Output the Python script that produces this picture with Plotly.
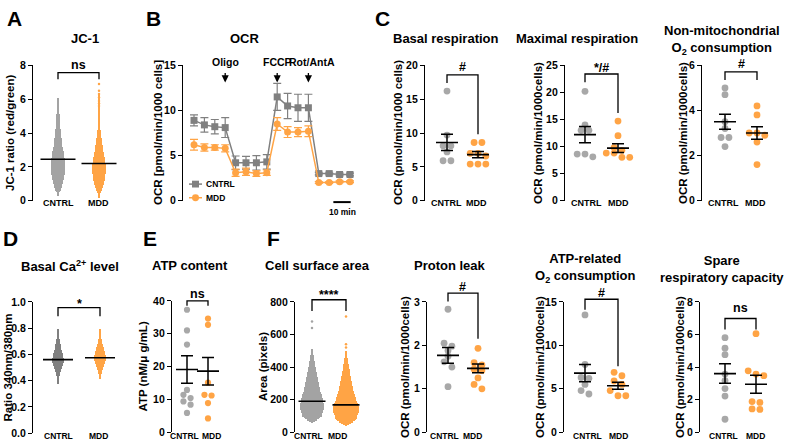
import numpy as np
import plotly.graph_objects as go

W, H = 788, 448
FONT = "Liberation Sans"
C_GRAY = "#A8A8A8"
C_DGRAY = "#808080"
C_ORANGE = "#FFA445"

groups = ["CNTRL", "MDD"]

# ---------------- A: JC-1 (violin outline: level -> relative density) ----------------
jc1_levels_cntrl = [0.3, 0.5, 0.67, 0.96, 1.45, 2.0, 2.6, 3.2, 3.8, 4.55, 5.5, 6.05]
jc1_dens_cntrl = [0.0, 0.17, 0.43, 0.6, 0.85, 1.0, 0.85, 0.6, 0.43, 0.26, 0.15, 0.03]
jc1_levels_mdd = [0.15, 0.5, 0.67, 0.96, 1.45, 2.0, 2.6, 3.2, 3.8, 4.55, 5.5, 6.2]
jc1_dens_mdd = [0.0, 0.23, 0.43, 0.63, 0.85, 0.94, 0.71, 0.49, 0.28, 0.14, 0.06, 0.02]
jc1_outliers_mdd = [6.9, 6.5, 6.3, 6.1, 5.9, 5.75, 5.6]
jc1_median = [2.45, 2.2]

# ---------------- B: OCR time course ----------------
ocr_time = [0, 6, 12, 18, 24, 30, 36, 42, 48, 54, 60, 66, 72, 78, 84, 90]
ocr_cntrl = [8.9, 8.4, 8.2, 8.1, 4.2, 4.2, 4.2, 4.3, 11.5, 10.5, 10.3, 10.3, 3.0, 3.0, 2.9, 2.9]
ocr_cntrl_err = [0.6, 0.8, 0.8, 1.1, 0.75, 0.7, 0.8, 0.8, 1.5, 1.4, 1.5, 1.5, 0.15, 0.15, 0.15, 0.15]
ocr_mdd = [6.2, 5.9, 5.9, 5.8, 3.1, 3.2, 3.0, 3.1, 8.5, 7.6, 7.6, 7.7, 2.0, 2.0, 2.1, 2.1]
ocr_mdd_err = [0.6, 0.4, 0.3, 0.4, 0.4, 0.4, 0.3, 0.3, 0.7, 0.6, 0.5, 0.6, 0.1, 0.1, 0.1, 0.1]
injections = [("Oligo", 18), ("FCCP", 48), ("Rot/AntA", 66)]

# ---------------- C: respiration parameters ----------------
basal_cntrl = [16.2, 9.7, 8.1, 8.1, 7.2, 5.9, 5.9]
basal_mdd = [8.6, 8.6, 7.0, 7.0, 6.6, 5.4, 5.4, 5.4]
basal_mean, basal_sem = [8.6, 6.8], [1.2, 0.45]

maximal_cntrl = [20.2, 14.0, 13.0, 13.0, 8.6, 8.6, 8.1]
maximal_mdd = [14.7, 12.0, 9.8, 9.3, 8.8, 8.8, 8.0, 8.0]
maximal_mean, maximal_sem = [12.2, 9.7], [1.5, 0.8]

nonmito_cntrl = [5.0, 4.7, 3.5, 3.2, 2.8, 2.8, 2.4]
nonmito_mdd = [4.2, 3.8, 3.0, 3.0, 2.9, 2.6, 1.6]
nonmito_mean, nonmito_sem = [3.5, 3.0], [0.33, 0.28]

# ---------------- D: basal Ca2+ ----------------
ca_levels_cntrl = [0.38, 0.42, 0.45, 0.50, 0.55, 0.60, 0.65, 0.70, 0.75, 0.79]
ca_dens_cntrl = [0.0, 0.1, 0.3, 0.6, 1.0, 0.8, 0.5, 0.3, 0.15, 0.03]
ca_levels_mdd = [0.42, 0.45, 0.50, 0.55, 0.57, 0.60, 0.65, 0.70, 0.75, 0.79]
ca_dens_mdd = [0.0, 0.2, 0.5, 0.9, 1.0, 0.9, 0.6, 0.3, 0.15, 0.03]
ca_median = [0.56, 0.575]

# ---------------- E: ATP content ----------------
atp_cntrl = [37.3, 31.0, 26.7, 12.9, 11.4, 10.4, 9.4, 8.4, 5.9]
atp_mdd = [34.6, 32.7, 15.1, 11.4, 11.2, 8.9, 4.2]
atp_mean, atp_sem = [19.1, 18.6], [4.2, 4.2]

# ---------------- F: cell surface area ----------------
area_levels_cntrl = [60, 80, 100, 150, 200, 250, 300, 350, 400, 450, 510]
area_dens_cntrl = [0.0, 0.43, 0.79, 1.0, 0.93, 0.71, 0.57, 0.43, 0.29, 0.18, 0.04]
area_outliers_cntrl = [640, 680]
area_levels_mdd = [40, 60, 80, 130, 160, 200, 250, 300, 350, 400, 450, 500]
area_dens_mdd = [0.0, 0.43, 0.86, 1.05, 1.05, 0.86, 0.64, 0.5, 0.36, 0.25, 0.14, 0.04]
area_outliers_mdd = [520, 540, 710]
area_median = [190, 168]

proton_cntrl = [2.83, 2.05, 1.98, 1.88, 1.75, 1.62, 1.5, 1.05]
proton_mdd = [1.93, 1.6, 1.55, 1.45, 1.42, 1.25, 1.1, 1.0]
proton_mean, proton_sem = [1.77, 1.47], [0.18, 0.1]

atprel_cntrl = [13.5, 7.8, 6.3, 6.2, 5.5, 4.8, 4.4]
atprel_mdd = [6.9, 6.5, 5.9, 5.5, 4.8, 4.2, 4.2]
atprel_mean, atprel_sem = [6.8, 5.35], [1.0, 0.4]

spare_cntrl = [5.8, 5.16, 4.76, 3.57, 3.17, 2.68, 2.22, 0.8]
spare_mdd = [6.05, 3.77, 3.57, 3.47, 1.88, 1.83, 1.43, 1.4]
spare_mean, spare_sem = [3.6, 2.95], [0.6, 0.55]

# ---------------- layout geometry (pixels) ----------------
GEOM = {
    "A": dict(L=33, R=128, T=61, B=200, c0=58, c1=99, yr=(0, 8), dtick=2, lab=(58, 99)),
    "B": dict(L=183, R=358, T=61, B=200, yr=(0, 15), dtick=5, t0px=194, pxmin=10.4 / 6),
    "C1": dict(L=425, R=505, T=61, B=200, c0=447, c1=478, yr=(0, 20), dtick=5, lab=(446, 477)),
    "C2": dict(L=565, R=645, T=61, B=200, c0=585, c1=618, yr=(0, 25), dtick=5, lab=(586, 618)),
    "C3": dict(L=702, R=785, T=61, B=200, c0=725, c1=757, yr=(0, 6), dtick=2, lab=(723, 755)),
    "D": dict(L=33, R=128, T=304, B=439, c0=58, c1=100, yr=(0, 1), dtick=0.2, fmt=".1f", lab=(58, 99)),
    "E": dict(L=172, R=228, T=303, B=438, c0=187, c1=208, yr=(0, 40), dtick=10, lab=(184, 211)),
    "F": dict(L=295, R=368, T=304, B=438, c0=312, c1=346, yr=(0, 800), dtick=200, lab=(308, 337)),
    "G": dict(L=427, R=505, T=304, B=438, c0=448, c1=478, yr=(0, 3), dtick=1, lab=(444, 472)),
    "H": dict(L=564, R=645, T=304, B=438, c0=585, c1=618, yr=(0, 15), dtick=5, lab=(587, 618)),
    "I": dict(L=700, R=785, T=304, B=438, c0=725, c1=756, yr=(0, 8), dtick=2, lab=(723, 755)),
}
ORDER = ["A", "B", "C1", "C2", "C3", "D", "E", "F", "G", "H", "I"]

for k, g in GEOM.items():
    if k == "B":
        g["xr"] = ((g["L"] - g["t0px"]) / g["pxmin"], (g["R"] - g["t0px"]) / g["pxmin"])
    else:
        sp = g["c1"] - g["c0"]
        g["s"] = sp
        g["xr"] = ((g["L"] - g["c0"]) / sp, (g["R"] - g["c0"]) / sp)


def to_paper(key, xv, yv):
    g = GEOM[key]
    x0, x1 = g["xr"]
    y0, y1 = g["yr"]
    xpx = g["L"] + (xv - x0) / (x1 - x0) * (g["R"] - g["L"])
    ypx = g["B"] - (yv - y0) / (y1 - y0) * (g["B"] - g["T"])
    return xpx / W, 1 - ypx / H


def P(xpx, ypx):
    return xpx / W, 1 - ypx / H


def f(size):
    return dict(family=FONT, size=size, color="black", weight="bold")


fig = go.Figure()
REF = {}
axes_layout = {}
for n, key in enumerate(ORDER, 1):
    g = GEOM[key]
    sx = "" if n == 1 else str(n)
    REF[key] = ("x" + sx, "y" + sx)
    axes_layout["xaxis" + sx] = dict(domain=[g["L"] / W, g["R"] / W], range=list(g["xr"]),
                                     autorange=False, anchor="y" + sx, showline=False,
                                     showticklabels=False, ticks="", showgrid=False,
                                     zeroline=False, fixedrange=True)
    ydict = dict(domain=[1 - g["B"] / H, 1 - g["T"] / H], range=list(g["yr"]), autorange=False,
                 anchor="x" + sx,
                 showline=True, linecolor="black", linewidth=1.3, ticks="outside", ticklen=4,
                 tickwidth=1.3, tickcolor="black", tickmode="linear", tick0=0, dtick=g["dtick"],
                 tickfont=f(10.5), showgrid=False, zeroline=False, fixedrange=True)
    if "fmt" in g:
        ydict["tickformat"] = g["fmt"]
    axes_layout["yaxis" + sx] = ydict


def add(trace, key):
    xr, yr = REF[key]
    trace.update(xaxis=xr, yaxis=yr, showlegend=False, hoverinfo="none")
    fig.add_trace(trace)


# ---------- violins: drawn as thin horizontal bar slices following the read outline ----------
def violin(key, ci, levels, dens, half_px, color, nslices=60):
    g = GEOM[key]
    hm = half_px / g["s"]
    edges = np.linspace(levels[0], levels[-1], nslices + 1)
    mids = (edges[:-1] + edges[1:]) / 2
    half = np.interp(mids, levels, dens) * hm
    thick = (edges[1] - edges[0]) * 1.05
    add(go.Bar(orientation="h", y=mids, x=2 * half, base=ci - half, width=thick,
               marker=dict(color=color, line=dict(width=0))), key)


def outliers(key, ci, vals, color):
    add(go.Scatter(x=[ci] * len(vals), y=vals, mode="markers", cliponaxis=False,
                   marker=dict(size=2.5, color=color)), key)


def median_lines(key, meds, half_px):
    g = GEOM[key]
    h = half_px / g["s"]
    for ci, m in enumerate(meds):
        add(go.Scatter(x=[ci - h, ci + h], y=[m, m], mode="lines",
                       line=dict(color="black", width=1.6)), key)


violin("A", 0, jc1_levels_cntrl, jc1_dens_cntrl, 7.5, "#A3A3A3")
violin("A", 1, jc1_levels_mdd, jc1_dens_mdd, 7.5, C_ORANGE)
outliers("A", 1, jc1_outliers_mdd, C_ORANGE)
median_lines("A", jc1_median, 17.5)

violin("D", 0, ca_levels_cntrl, ca_dens_cntrl, 6, C_DGRAY)
violin("D", 1, ca_levels_mdd, ca_dens_mdd, 6, C_ORANGE)
median_lines("D", ca_median, 15)

violin("F", 0, area_levels_cntrl, area_dens_cntrl, 12, "#A3A3A3")
violin("F", 1, area_levels_mdd, area_dens_mdd, 12, C_ORANGE)
outliers("F", 0, area_outliers_cntrl, "#A3A3A3")
outliers("F", 1, area_outliers_mdd, C_ORANGE)
median_lines("F", area_median, 13.5)


# ---------- scatter dot plots ----------
def swarm(values, ppu, d_px, s_px):
    order = sorted(range(len(values)), key=lambda i: -values[i])
    offs = [0.0] * len(values)
    rows = []
    for i in order:
        y = values[i] * ppu
        if rows and abs(rows[-1][0] - y) < 0.8 * d_px:
            rows[-1][1].append(i)
        else:
            rows.append((y, [i]))
    for _, idxs in rows:
        nn = len(idxs)
        for k, i in enumerate(idxs):
            offs[i] = (k - (nn - 1) / 2) * d_px * 1.15 / s_px
    return offs


def dotplot(key, cvals, mvals, means, sems, msize=6.8):
    g = GEOM[key]
    ppu = (g["B"] - g["T"]) / (g["yr"][1] - g["yr"][0])
    for ci, (vals, col) in enumerate([(cvals, C_GRAY), (mvals, C_ORANGE)]):
        offs = swarm(vals, ppu, msize, g["s"])
        add(go.Scatter(x=[ci + o for o in offs], y=vals, mode="markers", cliponaxis=False,
                       marker=dict(size=msize, color=col, line=dict(width=0))), key)
    h = 11 / g["s"]
    for ci in range(2):
        add(go.Scatter(x=[ci - h, ci + h], y=[means[ci]] * 2, mode="lines",
                       line=dict(color="black", width=1.6)), key)
    add(go.Scatter(x=[0, 1], y=means, mode="markers", marker=dict(size=1, color="rgba(0,0,0,0)"),
                   error_y=dict(type="data", array=sems, visible=True, color="black",
                                thickness=1.5, width=6)), key)


dotplot("C1", basal_cntrl, basal_mdd, basal_mean, basal_sem)
dotplot("C2", maximal_cntrl, maximal_mdd, maximal_mean, maximal_sem)
dotplot("C3", nonmito_cntrl, nonmito_mdd, nonmito_mean, nonmito_sem)
dotplot("E", atp_cntrl, atp_mdd, atp_mean, atp_sem, msize=6.2)
dotplot("G", proton_cntrl, proton_mdd, proton_mean, proton_sem)
dotplot("H", atprel_cntrl, atprel_mdd, atprel_mean, atprel_sem)
dotplot("I", spare_cntrl, spare_mdd, spare_mean, spare_sem)

# ---------- B: OCR time course ----------
add(go.Scatter(x=ocr_time, y=ocr_cntrl, mode="lines+markers", cliponaxis=False,
               line=dict(color=C_DGRAY, width=1.5),
               marker=dict(symbol="square", size=7, color=C_DGRAY),
               error_y=dict(type="data", array=ocr_cntrl_err, color=C_DGRAY, thickness=1.2, width=4)), "B")
add(go.Scatter(x=ocr_time, y=ocr_mdd, mode="lines+markers", cliponaxis=False,
               line=dict(color=C_ORANGE, width=1.5),
               marker=dict(symbol="circle", size=7, color=C_ORANGE),
               error_y=dict(type="data", array=ocr_mdd_err, color=C_ORANGE, thickness=1.2, width=4)), "B")

shapes = []
annotations = []


def text(xp, yp, s, size, **kw):
    d = dict(x=xp, y=yp, xref="paper", yref="paper", text=s, showarrow=False, font=f(size),
             xanchor="center", yanchor="middle")
    d.update(kw)
    annotations.append(d)


for lab, t in injections:
    xp, ytip = to_paper("B", t, 13.1)
    annotations.append(dict(x=xp, y=ytip, xref="paper", yref="paper", ax=0, ay=-11,
                            text="", showarrow=True,
                            arrowhead=2, arrowsize=1.1, arrowwidth=1.3, arrowcolor="black"))
    shift = 4 if lab == "Rot/AntA" else 0
    text(xp, P(0, 57.5)[1], lab, 10.5, xshift=shift)

sb0, _ = to_paper("B", 80.4, 0)
sb1, _ = to_paper("B", 90.4, 0)
shapes.append(dict(type="line", xref="paper", yref="paper", x0=sb0, x1=sb1,
                   y0=P(0, 201.5)[1], y1=P(0, 201.5)[1], line=dict(color="black", width=2)))
text((sb0 + sb1) / 2, P(0, 211.5)[1], "10 min", 8.5)

for lab, yy, col, sym in [("CNTRL", 183, C_DGRAY, "rect"), ("MDD", 197, C_ORANGE, "circle")]:
    shapes.append(dict(type="line", xref="paper", yref="paper", x0=189 / W, x1=202 / W,
                       y0=P(0, yy)[1], y1=P(0, yy)[1], line=dict(color=col, width=1.5)))
    shapes.append(dict(type=sym, xref="paper", yref="paper", x0=192 / W, x1=199 / W,
                       y0=P(0, yy + 3.5)[1], y1=P(0, yy - 3.5)[1], fillcolor=col,
                       line=dict(color=col, width=0)))
    text(204 / W, P(0, yy)[1], lab, 8.5, xanchor="left")

BRACKETS = {
    "A": (7.57, 7.18, 7.18, "ns", 8.05),
    "C1": (18.6, 17.4, 9.8, "#", 19.7),
    "C2": (23.4, 21.9, 16.2, "*/#", 24.6),
    "C3": (5.71, 5.35, 5.35, "#", 6.04),
    "D": (0.956, 0.89, 0.89, "*", 0.985),
    "E": (40.0, 38.5, 38.5, "ns", 42.2),
    "F": (813, 744, 744, "****", 842),
    "G": (3.2, 3.01, 2.15, "#", 3.35),
    "H": (15.3, 14.1, 7.6, "#", 16.0),
    "I": (6.98, 6.3, 6.3, "ns", 7.64),
}
for key, (yb, yl, yrt, lab, yt) in BRACKETS.items():
    x0, ybp = to_paper(key, 0, yb)
    x1, _ = to_paper(key, 1, yb)
    _, ylp = to_paper(key, 0, yl)
    _, yrp = to_paper(key, 1, yrt)
    shapes.append(dict(type="path", xref="paper", yref="paper",
                       path=f"M {x0},{ylp} L {x0},{ybp} L {x1},{ybp} L {x1},{yrp}",
                       line=dict(color="black", width=1.3)))
    _, ytp = to_paper(key, 0, yt)
    text((x0 + x1) / 2, ytp, lab, 12.5)

for key in ORDER:
    if key == "B":
        continue
    g = GEOM[key]
    row1 = g["T"] < 100
    ypx = 202.5 if row1 else 441.5
    for ci, lab in enumerate(groups):
        text(*P(g["lab"][ci], ypx), lab, 9 if row1 else 8.5)

TITLES = [
    ("JC-1", 85, 33), ("OCR", 245, 33), ("Basal respiration", 446, 33),
    ("Maximal respiration", 577, 33), ("Non-mitochondrial<br>O<sub>2</sub> consumption", 722, 35),
    ("Basal Ca<sup>2+</sup> level", 70, 267), ("ATP content", 190, 267),
    ("Cell surface area", 317, 267), ("Proton leak", 450, 267),
    ("ATP-related<br>O<sub>2</sub> consumption", 585, 269),
    ("Spare<br>respiratory capacity", 722, 270),
]
for s, xx, yy in TITLES:
    text(*P(xx, yy), s, 13)

YTITLES = {
    "A": ("JC-1 ratio (red/green)", 10), "B": ("OCR [pmol/min/1000 cells]", 158),
    "C1": ("OCR (pmol/min/1000 cells)", 398), "C2": ("OCR (pmol/min/1000cells)", 538),
    "C3": ("OCR (pmol/min/1000cells)", 683), "D": ("Ratio 340nm/380nm", 8),
    "E": ("ATP (nM/μ g/mL)", 143), "F": ("Area (pixels)", 263),
    "G": ("OCR (pmol/min/1000cells)", 405), "H": ("OCR (pmol/min/1000cells)", 540),
    "I": ("OCR (pmol/min/1000cells)", 680),
}
for key, (s, xx) in YTITLES.items():
    g = GEOM[key]
    text(*P(xx, (g["T"] + g["B"]) / 2), s, 11.5, textangle=-90)

for s, xx, yy in [("A", 14, 13), ("B", 153, 13), ("C", 382, 13), ("D", 10, 239), ("E", 150, 239), ("F", 273, 239)]:
    text(*P(xx, yy), s, 21)

fig.update_layout(width=W, height=H, autosize=False, margin=dict(l=0, r=0, t=0, b=0),
                  paper_bgcolor="white", plot_bgcolor="white", showlegend=False,
                  barmode="overlay", bargap=0,
                  shapes=shapes, annotations=annotations, **axes_layout)
fig.write_html("out.html", config={"displayModeBar": False},
               post_script="document.body.style.margin='0';document.body.style.overflow='hidden';")
